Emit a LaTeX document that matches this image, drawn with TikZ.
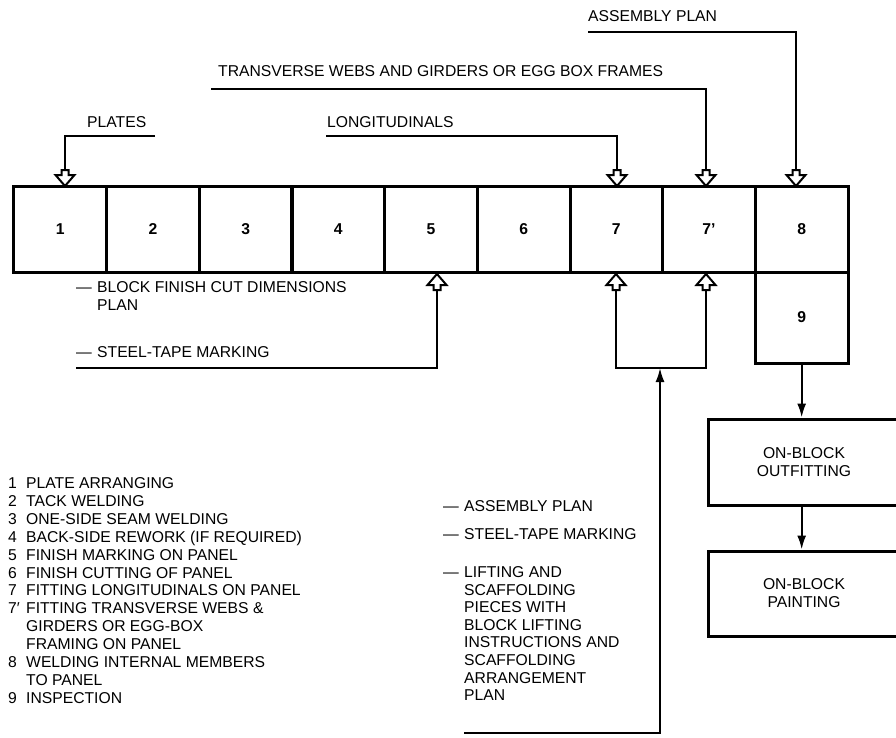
\documentclass[tikz,border=0pt]{standalone}
\usepackage{fontspec}
\setmainfont{Liberation Sans}
\usetikzlibrary{arrows.meta,calc}
\newcommand\fs{\fontsize{15.7pt}{17.9pt}\selectfont}
\newcommand\mylines[1]{\begin{tabular}[t]{@{}l@{}}#1\end{tabular}}
\tikzset{
  cell/.style={draw,line width=3pt,minimum width=92.67pt,minimum height=86pt,inner sep=0pt,font=\fs\bfseries},
  bigbox/.style={draw,line width=3pt,minimum width=192pt,minimum height=86pt,align=center,font=\fs},
  conn/.style={line width=2pt},
  fconn/.style={line width=2pt,-{Latex[length=14pt,width=9pt]}},
  txt/.style={anchor=base west,inner sep=0pt,font=\fs},
  hollow/.style={draw,line width=2pt,fill=white,line join=miter},
  hdown/.pic={\path[hollow] (0,0) -- (-9.5,-11) -- (-3.5,-11) -- (-3.5,-16) -- (3.5,-16) -- (3.5,-11) -- (9.5,-11) -- cycle;},
  hup/.pic={\path[hollow] (0,0) -- (-9.5,11) -- (-3.5,11) -- (-3.5,16) -- (3.5,16) -- (3.5,11) -- (9.5,11) -- cycle;},
}
\begin{document}
\begin{tikzpicture}[x=1pt,y=-1pt]
\useasboundingbox (0,0) rectangle (896,737);
\clip (0,0) rectangle (896,737);

% process strip
\node[cell] (c1) at (60.33,229) {1};
\node[cell] (c2) at (153,229) {2};
\node[cell] (c3) at (245.67,229) {3};
\node[cell] (c4) at (338.33,229) {4};
\node[cell] (c5) at (431,229) {5};
\node[cell] (c6) at (523.67,229) {6};
\node[cell] (c7) at (616.33,229) {7};
\node[cell] (c7p) at (709,229) {7’};
\node[cell] (c8) at (801.67,229) {8};
\node[cell,minimum height=91pt] (c9) at (801.67,317.5) {9};

% downstream boxes
\node[bigbox] (outfit) at (804,462) {ON-BLOCK\\OUTFITTING};
\node[bigbox,minimum height=85pt] (paint) at (804,593.5) {ON-BLOCK\\PAINTING};
\draw[fconn] (c9.south) -- (c9.south |- outfit.north);
\draw[fconn] (c9.south |- outfit.south) -- (c9.south |- paint.north);

% top inputs
\node[txt] (plates) at (87,127.5) {PLATES};
\node[txt] (longi) at (327,127.5) {LONGITUDINALS};
\node[txt] (trans) at (218,76.5) {TRANSVERSE WEBS AND GIRDERS OR EGG BOX FRAMES};
\node[txt] (asm) at (588,21.5) {ASSEMBLY PLAN};

\coordinate (plL) at (155,136);
\coordinate (plA) at (65,170);
\draw[conn] (plL) -| (plA);
\pic at (65,186) {hdown};

\coordinate (loL) at (326,136);
\coordinate (loA) at (617,170);
\draw[conn] (loL) -| (loA);
\pic at (617,186) {hdown};

\coordinate (trL) at (211,89);
\coordinate (trA) at (706,170);
\draw[conn] (trL) -| (trA);
\pic at (706,186) {hdown};

\coordinate (asL) at (588,32);
\coordinate (asA) at (796,170);
\draw[conn] (asL) -| (asA);
\pic at (796,186) {hdown};

% inputs below strip, to 5
\node[txt] (d1) at (76,292.5) {—};
\node[txt] (bfc) at (97,292.5) {\mylines{BLOCK FINISH CUT DIMENSIONS\\PLAN}};
\node[txt] (d2) at (76,357.5) {—};
\node[txt] (stm) at (97,357.5) {STEEL-TAPE MARKING};
\coordinate (stL) at (76,368);
\coordinate (stA) at (437,289);
\draw[conn] (stL) -| (stA);
\pic at (437,274) {hup};

% inputs to 7 and 7'
\coordinate (b7) at (616,289);
\coordinate (b7p) at (706,289);
\coordinate (bm) at (660,368);
\draw[conn] (b7) |- (bm) -| (b7p);
\pic at (616,274) {hup};
\pic at (706,274) {hup};
\coordinate (lfL) at (464,733);
\draw[fconn] (lfL) -| (bm);

\node[txt] (d3) at (443,511.5) {—};
\node[txt] (asm2) at (464,511.5) {ASSEMBLY PLAN};
\node[txt] (d4) at (443,539.5) {—};
\node[txt] (stm2) at (464,539.5) {STEEL-TAPE MARKING};
\node[txt] (d5) at (443,577.5) {—};
\node[txt] (lift) at (464,577.5) {\fontsize{15.7pt}{17.6pt}\selectfont\mylines{LIFTING AND\\SCAFFOLDING\\PIECES WITH\\BLOCK LIFTING\\INSTRUCTIONS AND\\SCAFFOLDING\\ARRANGEMENT\\PLAN}};

% legend
\node[txt] (legend) at (8,488.5) {\begin{tabular}[t]{@{}p{18pt}@{}l@{}}
1&PLATE ARRANGING\\
2&TACK WELDING\\
3&ONE-SIDE SEAM WELDING\\
4&BACK-SIDE REWORK (IF REQUIRED)\\
5&FINISH MARKING ON PANEL\\
6&FINISH CUTTING OF PANEL\\
7&FITTING LONGITUDINALS ON PANEL\\
7′&FITTING TRANSVERSE WEBS \&\\
&GIRDERS OR EGG-BOX\\
&FRAMING ON PANEL\\
8&WELDING INTERNAL MEMBERS\\
&TO PANEL\\
9&INSPECTION
\end{tabular}};
\end{tikzpicture}
\end{document}
